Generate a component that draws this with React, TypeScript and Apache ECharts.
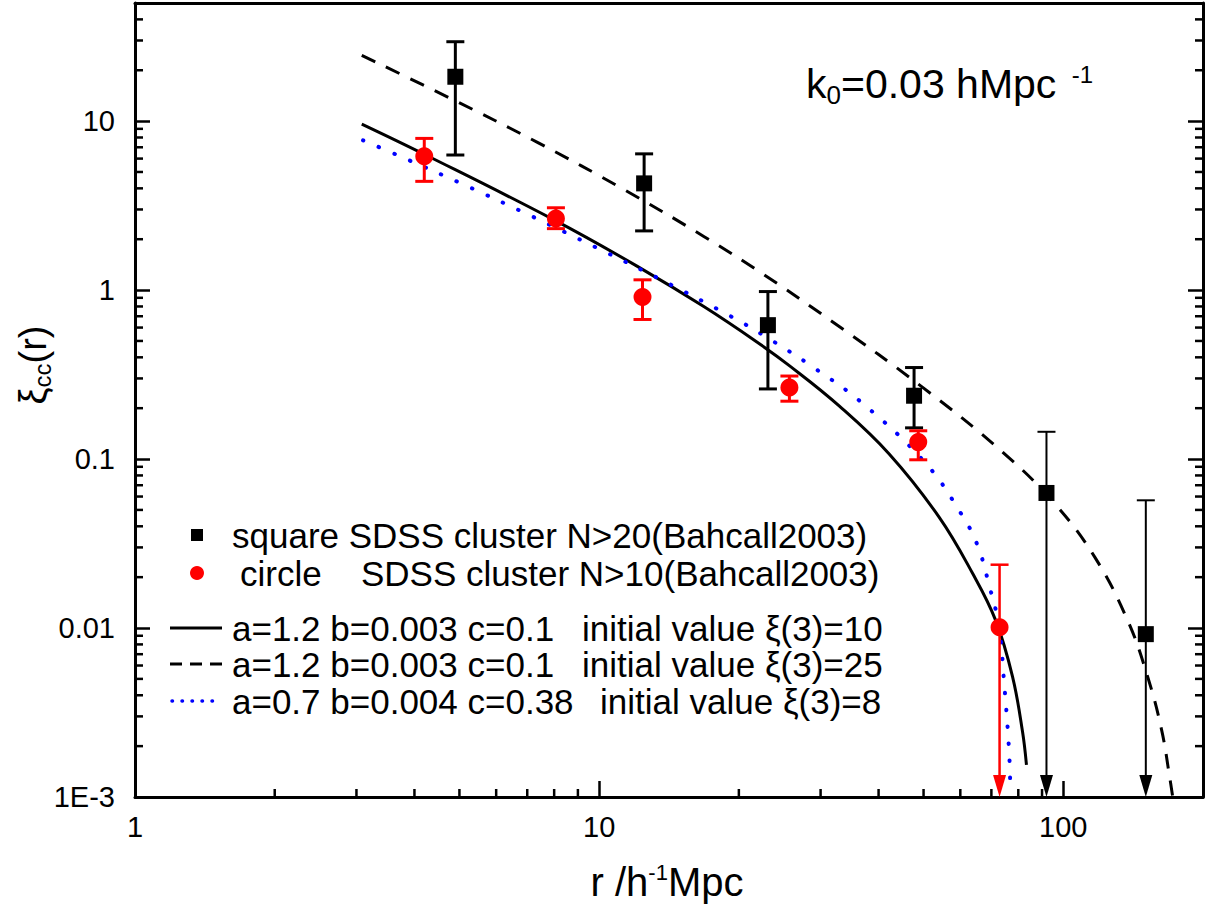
import React, { useEffect, useRef } from 'react';
import * as echarts from 'echarts';

// ---------- data ----------
const X_MIN = 1;
const X_MAX = 200;
const Y_MIN = 0.001;
const Y_MAX = 50;

const xTickValues = [1, 10, 100];
const xTickLabels = ['1', '10', '100'];
const yTickValues = [0.001, 0.01, 0.1, 1, 10];
const yTickLabels = ['1E-3', '0.01', '0.1', '1', '10'];

const xMinorTicks = [2, 3, 4, 5, 6, 7, 8, 9, 20, 30, 40, 50, 60, 70, 80, 90];
const yMinorTicks = [
  0.002, 0.003, 0.004, 0.005, 0.006, 0.007, 0.008, 0.009,
  0.02, 0.03, 0.04, 0.05, 0.06, 0.07, 0.08, 0.09,
  0.2, 0.3, 0.4, 0.5, 0.6, 0.7, 0.8, 0.9,
  2, 3, 4, 5, 6, 7, 8, 9,
  20, 30, 40,
];

// SDSS cluster N>20 (squares); null lower error = arrow down to axis
const squareR = [4.9, 12.5, 23.1, 47.7, 92, 150.6];
const squareXi = [18.3, 4.28, 0.62, 0.237, 0.063, 0.0092];
const squareHi = [29.5, 6.4, 0.98, 0.348, 0.145, 0.057];
const squareLo: (number | null)[] = [6.3, 2.24, 0.26, 0.153, null, null];

// SDSS cluster N>10 (circles)
const circleR = [4.2, 8.07, 12.4, 25.7, 48.7, 72.9];
const circleXi = [6.2, 2.65, 0.91, 0.265, 0.126, 0.0101];
const circleHi = [7.9, 3.07, 1.15, 0.31, 0.147, 0.0237];
const circleLo: (number | null)[] = [4.4, 2.31, 0.67, 0.22, 0.099, null];

// model curves
const solidCurve = [
  [3.08, 9.6], [4.23, 6.3], [8.03, 2.585], [12.09, 1.382], [16.84, 0.796],
  [21.87, 0.493], [25.73, 0.356], [32.94, 0.2056], [42.16, 0.1072], [53.96, 0.0455],
  [63.8, 0.021], [71.5, 0.0111], [77.74, 0.00516], [81.7, 0.00243], [83.3, 0.00155],
];
const dashedCurve = [
  [3.08, 24.5], [4.81, 13.52], [7.38, 7.46], [11.34, 3.92], [16.84, 2.07],
  [22.63, 1.235], [31.98, 0.643], [49.86, 0.2647], [74.0, 0.11], [96.1, 0.054],
  [117.1, 0.0261], [137.8, 0.011], [152.1, 0.00511], [163.0, 0.00247], [169.6, 0.0013],
  [172.1, 0.001],
];
const dottedCurve = [
  [3.1, 7.7], [3.67, 6.3], [5.1, 4.22], [7.09, 2.77], [9.84, 1.79],
  [13.7, 1.14], [19.2, 0.7], [22.6, 0.54], [28.9, 0.35], [37.0, 0.213],
  [50.6, 0.094], [60.1, 0.048], [65.3, 0.031], [69.2, 0.018], [72.7, 0.0102],
  [74.5, 0.0049], [76.4, 0.0019], [76.9, 0.0011],
];

const legendSquareText = 'square SDSS cluster N>20(Bahcall2003)';
const legendCircleWord = 'circle';
const legendCircleText = 'SDSS cluster N>10(Bahcall2003)';
const legendParams = ['a=1.2 b=0.003 c=0.1', 'a=1.2 b=0.003 c=0.1', 'a=0.7 b=0.004 c=0.38'];
const legendInit = ['initial value ξ(3)=10', 'initial value ξ(3)=25', 'initial value ξ(3)=8'];

// ---------- helpers ----------
const FONT = '"Liberation Sans", Arial, Helvetica, sans-serif';
const LEG_FS = 35;

function labelFor(values: number[], labels: string[]) {
  return (v: number) => {
    const i = values.findIndex((t) => Math.abs(Math.log10(v) - Math.log10(t)) < 1e-6);
    return i >= 0 ? labels[i] : '';
  };
}

function errData(r: number[], xi: number[], hi: number[], lo: (number | null)[]) {
  return r.map((x, i) => [x, xi[i], hi[i], lo[i] == null ? Y_MIN : (lo[i] as number), lo[i] == null ? 1 : 0]);
}

function errRender(color: string, width: number, arrowWidth: number) {
  return (params: any, api: any) => {
    const x = api.value(0);
    const hi = api.value(2);
    const lo = api.value(3);
    const arrow = api.value(4) === 1;
    const top = api.coord([x, hi]);
    const bot = api.coord([x, lo]);
    const cap = 9;
    const lw = arrow ? arrowWidth : width;
    const children: any[] = [
      { type: 'line', shape: { x1: top[0] - cap, y1: top[1], x2: top[0] + cap, y2: top[1] }, style: { stroke: color, lineWidth: lw } },
    ];
    if (arrow) {
      const ah = 22;
      const aw = 6.5;
      children.push({ type: 'line', shape: { x1: top[0], y1: top[1], x2: bot[0], y2: bot[1] - ah + 1 }, style: { stroke: color, lineWidth: lw } });
      children.push({ type: 'polygon', shape: { points: [[bot[0] - aw, bot[1] - ah], [bot[0] + aw, bot[1] - ah], [bot[0], bot[1]]] }, style: { fill: color } });
    } else {
      children.push({ type: 'line', shape: { x1: top[0], y1: top[1], x2: bot[0], y2: bot[1] }, style: { stroke: color, lineWidth: lw } });
      children.push({ type: 'line', shape: { x1: bot[0] - cap, y1: bot[1], x2: bot[0] + cap, y2: bot[1] }, style: { stroke: color, lineWidth: lw } });
    }
    return { type: 'group', children };
  };
}

function legText(text: string, x: number, y: number) {
  return { type: 'text', x, y, z: 10, style: { text, fontSize: LEG_FS, fontFamily: FONT, fill: '#000', verticalAlign: 'middle' } };
}

export default function App() {
  const ref = useRef<HTMLDivElement>(null);
  useEffect(() => {
    if (!ref.current) return;
    const chart = echarts.init(ref.current, null, { renderer: 'svg' });

    const axisLine = { show: true, lineStyle: { color: '#000', width: 3 } };

    const option: any = {
      animation: false,
      backgroundColor: '#fff',
      textStyle: { fontFamily: FONT },
      grid: { left: 135, top: 3, width: 1073, height: 794, containLabel: false },
      xAxis: [
        {
          type: 'log', logBase: 10, min: X_MIN, max: X_MAX, position: 'bottom',
          axisLine,
          axisTick: { show: true, inside: true, length: 16, lineStyle: { color: '#000', width: 2.5 } },
          axisLabel: { formatter: labelFor(xTickValues, xTickLabels), color: '#000', fontSize: 29, fontFamily: FONT, margin: 15 },
          splitLine: { show: false },
          minorTick: { show: false },
        },
        {
          type: 'log', logBase: 10, min: X_MIN, max: X_MAX, position: 'top',
          axisLine,
          axisTick: { show: false },
          axisLabel: { show: false },
          splitLine: { show: false },
        },
      ],
      yAxis: [
        {
          type: 'log', logBase: 10, min: Y_MIN, max: Y_MAX, position: 'left',
          axisLine,
          axisTick: { show: true, inside: true, length: 15, lineStyle: { color: '#000', width: 2.5 } },
          axisLabel: { formatter: labelFor(yTickValues, yTickLabels), color: '#000', fontSize: 29, fontFamily: FONT, margin: 20 },
          splitLine: { show: false },
        },
        {
          type: 'log', logBase: 10, min: Y_MIN, max: Y_MAX, position: 'right',
          axisLine,
          axisTick: { show: true, inside: true, length: 15, lineStyle: { color: '#000', width: 2.5 } },
          axisLabel: { show: false },
          splitLine: { show: false },
        },
      ],
      series: [
        {
          type: 'custom', name: 'xMinor', xAxisIndex: 0, yAxisIndex: 0, clip: false, silent: true,
          data: xMinorTicks.map((v) => [v, Y_MIN]),
          renderItem: (params: any, api: any) => {
            const p = api.coord([api.value(0), Y_MIN]);
            return { type: 'line', shape: { x1: p[0], y1: p[1], x2: p[0], y2: p[1] - 8 }, style: { stroke: '#000', lineWidth: 2.5 } };
          },
        },
        {
          type: 'custom', name: 'yMinor', xAxisIndex: 0, yAxisIndex: 0, clip: false, silent: true,
          data: yMinorTicks.map((v) => [X_MIN, v]),
          renderItem: (params: any, api: any) => {
            const p = api.coord([X_MIN, api.value(1)]);
            const cs = params.coordSys;
            const right = cs.x + cs.width;
            return {
              type: 'group',
              children: [
                { type: 'line', shape: { x1: cs.x, y1: p[1], x2: cs.x + 8, y2: p[1] }, style: { stroke: '#000', lineWidth: 2.5 } },
                { type: 'line', shape: { x1: right, y1: p[1], x2: right - 8, y2: p[1] }, style: { stroke: '#000', lineWidth: 2.5 } },
              ],
            };
          },
        },
        {
          type: 'line', name: 'solid', data: solidCurve, showSymbol: false, smooth: 0.4,
          lineStyle: { color: '#000', width: 3, type: 'solid' }, z: 3,
        },
        {
          type: 'line', name: 'dashed', data: dashedCurve, showSymbol: false, smooth: 0.4,
          lineStyle: { color: '#000', width: 3, type: [15, 12] }, z: 3,
        },
        {
          type: 'line', name: 'dotted', data: dottedCurve, showSymbol: false, smooth: 0.4,
          lineStyle: { color: '#0000ff', width: 4, type: [0.5, 16.5], cap: 'round' }, z: 3,
        },
        {
          type: 'custom', name: 'squareErr', data: errData(squareR, squareXi, squareHi, squareLo),
          renderItem: errRender('#000', 3, 2), z: 4, clip: false,
        },
        {
          type: 'custom', name: 'circleErr', data: errData(circleR, circleXi, circleHi, circleLo),
          renderItem: errRender('#ff0000', 3, 2.5), z: 4, clip: false,
        },
        {
          type: 'scatter', name: 'square', data: squareR.map((r, i) => [r, squareXi[i]]),
          symbol: 'rect', symbolSize: 16, itemStyle: { color: '#000', opacity: 1 }, z: 5,
        },
        {
          type: 'scatter', name: 'circle', data: circleR.map((r, i) => [r, circleXi[i]]),
          symbol: 'circle', symbolSize: 18, itemStyle: { color: '#ff0000', opacity: 1 }, z: 5,
        },
      ],
      graphic: [
        // k0 annotation
        {
          type: 'text', x: 806, y: 84, z: 10,
          style: {
            text: '{n|k}{s|0}{n|=0.03 hMpc }{p|-1}',
            verticalAlign: 'middle', align: 'left', fill: '#000', fontFamily: FONT,
            rich: {
              n: { fontSize: 41, fontFamily: FONT, fill: '#000', lineHeight: 46 },
              s: { fontSize: 26, fontFamily: FONT, fill: '#000', padding: [22, 0, 0, 0] },
              p: { fontSize: 24, fontFamily: FONT, fill: '#000', padding: [0, 0, 20, 4] },
            },
          },
        },
        // x axis title
        {
          type: 'text', x: 667, y: 882, z: 10,
          style: {
            text: '{n|r /h}{p|-1}{n|Mpc}',
            verticalAlign: 'middle', align: 'center', fill: '#000', fontFamily: FONT,
            rich: {
              n: { fontSize: 40, fontFamily: FONT, fill: '#000', lineHeight: 46 },
              p: { fontSize: 22, fontFamily: FONT, fill: '#000', padding: [0, 0, 20, 0] },
            },
          },
        },
        // y axis title
        {
          type: 'text', x: 33, y: 365, rotation: Math.PI / 2, z: 10,
          style: {
            text: '{n|ξ}{s|cc}{n|(r)}',
            verticalAlign: 'middle', align: 'center', fill: '#000', fontFamily: FONT,
            rich: {
              n: { fontSize: 38, fontFamily: FONT, fill: '#000', lineHeight: 44 },
              s: { fontSize: 24, fontFamily: FONT, fill: '#000', padding: [18, 0, 0, 0] },
            },
          },
        },
        // legend
        { type: 'rect', shape: { x: 191, y: 529, width: 12, height: 12 }, style: { fill: '#000' }, z: 10 },
        legText(legendSquareText, 232, 535),
        { type: 'circle', shape: { cx: 197, cy: 573, r: 7 }, style: { fill: '#ff0000' }, z: 10 },
        legText(legendCircleWord, 240, 573),
        legText(legendCircleText, 361, 573),
        { type: 'line', shape: { x1: 170, y1: 628, x2: 222, y2: 628 }, style: { stroke: '#000', lineWidth: 3 }, z: 10 },
        { type: 'line', shape: { x1: 170, y1: 664, x2: 222, y2: 664 }, style: { stroke: '#000', lineWidth: 3, lineDash: [12, 8] }, z: 10 },
        { type: 'line', shape: { x1: 172, y1: 701, x2: 222, y2: 701 }, style: { stroke: '#0000ff', lineWidth: 3.5, lineDash: [0.5, 9.5], lineCap: 'round' }, z: 10 },
        legText(legendParams[0], 232, 628),
        legText(legendInit[0], 582, 628),
        legText(legendParams[1], 232, 664),
        legText(legendInit[1], 582, 664),
        legText(legendParams[2], 232, 701),
        legText(legendInit[2], 600, 701),
      ],
    };

    chart.setOption(option);
    return () => chart.dispose();
  }, []);

  return (
    <div
      ref={ref}
      style={{ position: 'absolute', left: 0, top: 0, width: 1206, height: 919, background: '#fff', overflow: 'hidden' }}
    />
  );
}
